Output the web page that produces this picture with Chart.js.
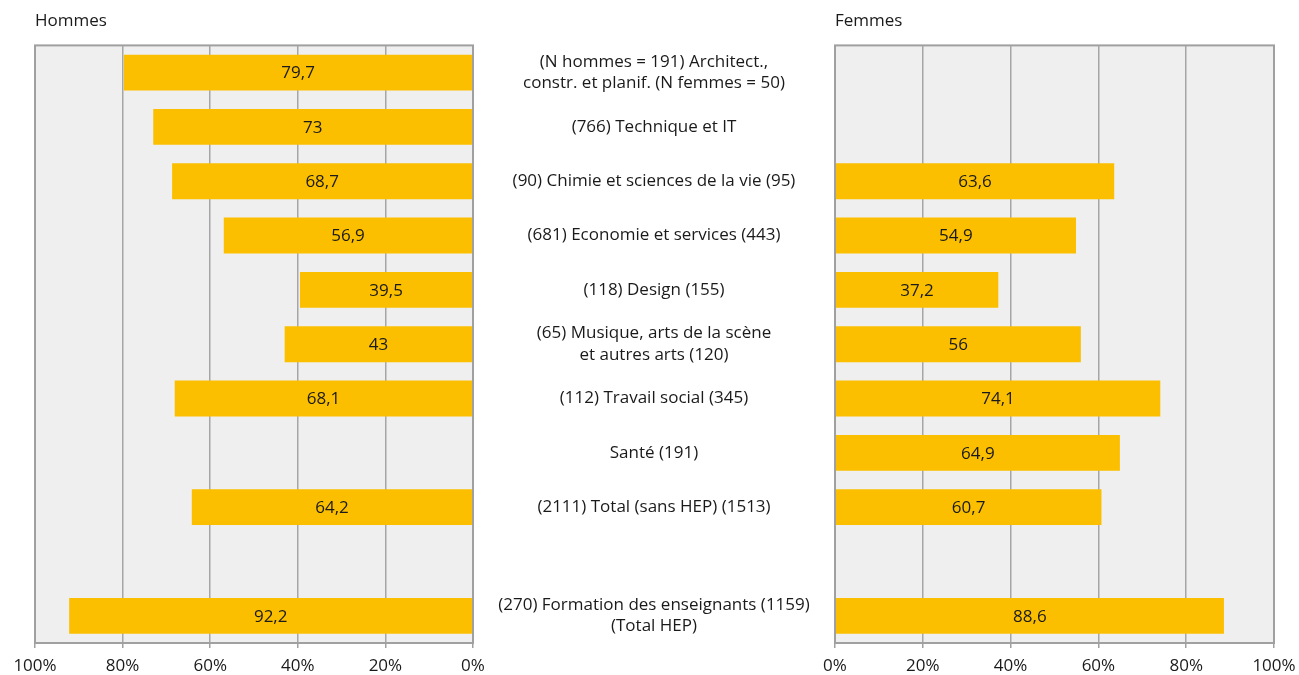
<!DOCTYPE html>
<html lang="fr">
<head>
    <meta charset="UTF-8">
    <title>Hommes / Femmes</title>
    <script src="https://cdn.jsdelivr.net/npm/chart.js"></script>
    <style>
        body { margin: 0; background: #fff; }
        #wrap { position: relative; width: 1299px; height: 675px; }
        #hommesChart { position: absolute; left: 0; top: 0; }
        #femmesChart { position: absolute; left: 800px; top: 0; }
    </style>
</head>
<body>
<div id="wrap">
    <canvas id="hommesChart" width="835" height="675"></canvas>
    <canvas id="femmesChart" width="499" height="675"></canvas>
</div>

<script>
    // categories (middle labels), top to bottom
    const categories = [
        ['(N hommes = 191) Architect.,', 'constr. et planif. (N femmes = 50)'],
        '(766) Technique et IT',
        '(90) Chimie et sciences de la vie (95)',
        '(681) Economie et services (443)',
        '(118) Design (155)',
        ['(65) Musique, arts de la scène', 'et autres arts (120)'],
        '(112) Travail social (345)',
        'Santé (191)',
        '(2111) Total (sans HEP) (1513)',
        '',
        ['(270) Formation des enseignants (1159)', '(Total HEP)']
    ];
    const hommes = [79.7, 73, 68.7, 56.9, 39.5, 43, 68.1, null, 64.2, null, 92.2];
    const femmes = [null, null, 63.6, 54.9, 37.2, 56, 74.1, 64.9, 60.7, null, 88.6];
    const tickValues = [0, 20, 40, 60, 80, 100];

    const FONT = '"Open Sans", "Noto Sans", sans-serif';
    const TEXT = '#1a1a1a';
    const BAR = '#fbbf00';
    const GRID = '#a6a6a6';

    // grey plot background + frame
    const plotFrame = {
        id: 'plotFrame',
        beforeDraw(chart) {
            const a = chart.chartArea, ctx = chart.ctx;
            ctx.save();
            ctx.fillStyle = '#efefef';
            ctx.fillRect(a.left, a.top, a.right - a.left, a.bottom - a.top);
            ctx.restore();
        },
        afterDatasetsDraw(chart) {
            const a = chart.chartArea, ctx = chart.ctx;
            ctx.save();
            ctx.strokeStyle = '#a0a0a0';
            ctx.lineWidth = 2;
            ctx.strokeRect(a.left, a.top, a.right - a.left, a.bottom - a.top);
            ctx.restore();
        }
    };

    // value labels in the middle of each bar
    const barValues = {
        id: 'barValues',
        afterDatasetsDraw(chart) {
            const ctx = chart.ctx;
            ctx.save();
            ctx.font = '17px ' + FONT;
            ctx.fillStyle = TEXT;
            ctx.textAlign = 'center';
            ctx.textBaseline = 'middle';
            chart.data.datasets.forEach(function(ds, di) {
                chart.getDatasetMeta(di).data.forEach(function(el, i) {
                    const v = ds.data[i];
                    if (v === null || v === undefined) return;
                    const p = el.getCenterPoint();
                    ctx.fillText(String(v).replace('.', ','), p.x, p.y + 1);
                });
            });
            ctx.restore();
        }
    };

    // category labels centred in the gap between the two panels
    const middleLabels = {
        id: 'middleLabels',
        afterDraw(chart) {
            const ctx = chart.ctx, y = chart.scales.y;
            const cx = (chart.chartArea.right + chart.width) / 2;
            const lh = 21.5;
            ctx.save();
            ctx.font = '17px ' + FONT;
            ctx.fillStyle = TEXT;
            ctx.textAlign = 'center';
            ctx.textBaseline = 'middle';
            categories.forEach(function(lab, i) {
                const lines = Array.isArray(lab) ? lab : [lab];
                const cy = y.getPixelForValue(i);
                lines.forEach(function(t, k) {
                    ctx.fillText(t, cx, cy + (k - (lines.length - 1) / 2) * lh);
                });
            });
            ctx.restore();
        }
    };

    function panelOptions(title, reverse, yOpts, padRight) {
        return {
            indexAxis: 'y',
            responsive: false,
            animation: false,
            devicePixelRatio: 1,
            layout: { padding: { left: 35, right: padRight, top: 0, bottom: 0 } },
            plugins: {
                legend: { display: false },
                tooltip: { enabled: false },
                title: {
                    display: true,
                    text: title,
                    align: 'start',
                    color: TEXT,
                    font: { family: FONT, size: 17, weight: 'normal' },
                    padding: { top: 11, bottom: 14 }
                }
            },
            scales: {
                x: {
                    min: 0,
                    max: 100,
                    reverse: reverse,
                    afterBuildTicks: function(scale) {
                        scale.ticks = tickValues.map(function(v) { return { value: v }; });
                    },
                    afterFit: function(scale) {
                        scale.height = 32;
                        // edge labels fit inside the layout padding
                        scale.paddingLeft = 0;
                        scale.paddingRight = 0;
                    },
                    ticks: {
                        callback: function(v) { return v + '%'; },
                        color: TEXT,
                        font: { family: FONT, size: 17 },
                        padding: 8,
                        maxRotation: 0
                    },
                    grid: { color: GRID, lineWidth: 1.5, tickLength: 5, tickColor: '#a0a0a0' },
                    border: { color: '#a0a0a0', width: 2 }
                },
                y: yOpts
            }
        };
    }

    new Chart(document.getElementById('hommesChart'), {
        type: 'bar',
        data: {
            labels: categories,
            datasets: [{
                data: hommes,
                backgroundColor: BAR,
                borderWidth: 0,
                barPercentage: 0.66,
                categoryPercentage: 1
            }]
        },
        options: panelOptions('Hommes', true, {
            position: 'right',
            grid: { display: false },
            border: { display: false },
            ticks: { display: false },
            afterFit: function(scale) { scale.width = 362; }
        }, 0),
        plugins: [plotFrame, barValues, middleLabels]
    });

    new Chart(document.getElementById('femmesChart'), {
        type: 'bar',
        data: {
            labels: categories,
            datasets: [{
                data: femmes,
                backgroundColor: BAR,
                borderWidth: 0,
                barPercentage: 0.66,
                categoryPercentage: 1
            }]
        },
        options: panelOptions('Femmes', false, { display: false }, 25),
        plugins: [plotFrame, barValues]
    });
</script>
</body>
</html>
